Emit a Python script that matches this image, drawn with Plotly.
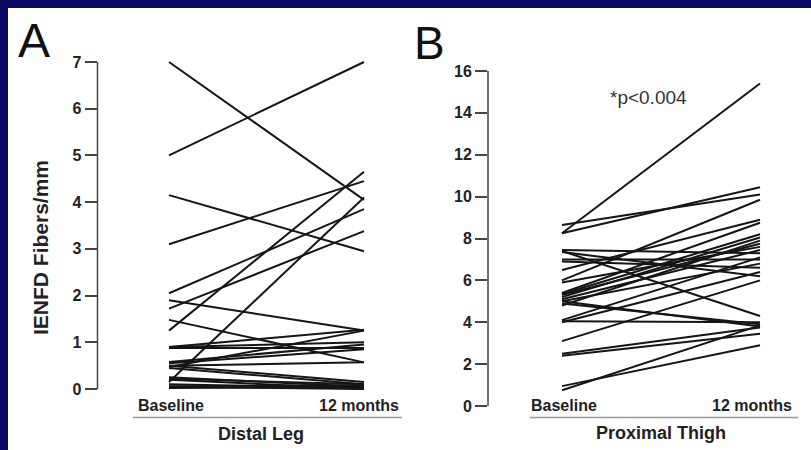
import plotly.graph_objects as go

W, H = 811, 450

# ---------------- data ----------------
time_labels = ["Baseline", "12 months"]

# Panel A: Distal Leg (IENFD fibers/mm), one entry per subject
distal_baseline = [7.0, 5.0, 4.15, 3.1, 2.05, 1.9, 1.72, 1.48, 1.25, 0.9, 0.88, 0.9,
                   0.58, 0.55, 0.5, 0.47, 0.5, 0.45, 0.25, 0.2, 0.15, 0.1, 0.05, 0.02,
                   0.22, 0.06]
distal_12mo = [4.05, 7.0, 2.95, 4.45, 3.85, 1.25, 3.38, 0.57, 4.65, 1.27, 0.88, 1.0,
               0.95, 0.85, 0.57, 1.25, 0.15, 0.1, 0.05, 0.0, 4.1, 0.02, 0.0, 0.05,
               0.1, 0.08]

# Panel B: Proximal Thigh
thigh_baseline = [8.25, 8.25, 8.65, 7.45, 7.4, 7.35, 7.0, 6.9, 6.5, 6.0, 5.9, 5.4,
                  5.35, 5.3, 5.2, 5.1, 5.0, 5.0, 4.9, 4.8, 4.1, 4.05, 4.0, 3.1,
                  2.5, 2.4, 0.95, 0.75]
thigh_12mo = [15.4, 10.45, 10.1, 7.3, 4.3, 6.2, 7.0, 6.6, 8.9, 9.85, 7.6, 8.75,
              8.2, 7.75, 8.05, 7.45, 3.8, 6.8, 3.9, 7.9, 7.1, 4.0, 6.4, 6.0,
              3.75, 3.45, 2.9, 3.85]

distal_ticks = [0, 1, 2, 3, 4, 5, 6, 7]
thigh_ticks = [0, 2, 4, 6, 8, 10, 12, 14, 16]

# ---------------- helpers ----------------
def fx(px):
    return px / W

def fy(py):
    return 1 - py / H

def pairs(base, follow):
    xs, ys = [], []
    for b, f in zip(base, follow):
        xs += [0, 1, None]
        ys += [b, f, None]
    return xs, ys

FONT = "Liberation Sans, Arial, Helvetica, sans-serif"
LINE_COLOR = "#151515"
AXIS_COLOR = "#444444"
NAVY = "#0a0a64"

fig = go.Figure()

xa, ya = pairs(distal_baseline, distal_12mo)
fig.add_trace(go.Scatter(x=xa, y=ya, mode="lines", xaxis="x", yaxis="y",
                         line=dict(color=LINE_COLOR, width=2), hoverinfo="skip",
                         showlegend=False))
xb, yb = pairs(thigh_baseline, thigh_12mo)
fig.add_trace(go.Scatter(x=xb, y=yb, mode="lines", xaxis="x2", yaxis="y2",
                         line=dict(color=LINE_COLOR, width=2), hoverinfo="skip",
                         showlegend=False))

# geometry (pixels)
A_axis_x, A_base_x, A_end_x, A_right = 97.5, 169, 364, 402
A_top, A_bot = 62, 389
B_axis_x, B_base_x, B_end_x, B_right = 488, 562, 760, 798
B_top, B_bot = 71, 406
pad = 3

def xrange_for(axis_x, base_x, end_x, right):
    ppu = end_x - base_x
    r0 = -(base_x - axis_x) / ppu
    r1 = r0 + (right - axis_x) / ppu
    return [r0, r1]

A_ppu = (A_bot - A_top) / 7
B_ppu = (B_bot - B_top) / 16

tickfont = dict(family=FONT, size=16, color="#222222", weight="bold")

fig.update_layout(
    width=W, height=H,
    autosize=False,
    margin=dict(l=0, r=0, t=0, b=0, pad=0, autoexpand=False),
    paper_bgcolor=NAVY,
    plot_bgcolor="rgba(0,0,0,0)",
    xaxis=dict(domain=[fx(A_axis_x), fx(A_right)],
               range=xrange_for(A_axis_x, A_base_x, A_end_x, A_right),
               showgrid=False, zeroline=False, showline=False, automargin=False,
               showticklabels=False, ticks="", anchor="y"),
    yaxis=dict(domain=[fy(A_bot + pad), fy(A_top - pad)],
               range=[-pad / A_ppu, 7 + pad / A_ppu], automargin=False,
               tickvals=distal_ticks, ticks="outside", ticklen=12, tickwidth=1.5,
               tickcolor=AXIS_COLOR, tickfont=tickfont,
               showgrid=False, zeroline=False, showline=False, anchor="x"),
    xaxis2=dict(domain=[fx(B_axis_x), fx(B_right)],
                range=xrange_for(B_axis_x, B_base_x, B_end_x, B_right),
                showgrid=False, zeroline=False, showline=False, automargin=False,
                showticklabels=False, ticks="", anchor="y2"),
    yaxis2=dict(domain=[fy(B_bot + pad), fy(B_top - pad)],
                range=[-pad / B_ppu, 16 + pad / B_ppu], automargin=False,
                tickvals=thigh_ticks, ticks="outside", ticklen=12, tickwidth=1.5,
                tickcolor=AXIS_COLOR, tickfont=tickfont,
                showgrid=False, zeroline=False, showline=False, anchor="x2"),
)

shapes = [
    # white slide panel
    dict(type="rect", xref="paper", yref="paper", x0=fx(8), x1=1.02, y0=-0.02, y1=fy(8),
         fillcolor="white", line=dict(width=0), layer="below"),
    # y axis spines (from lowest to highest tick)
    dict(type="line", xref="x domain", yref="y", x0=0, x1=0, y0=0, y1=7,
         line=dict(color=AXIS_COLOR, width=1.5)),
    dict(type="line", xref="x2 domain", yref="y2", x0=0, x1=0, y0=0, y1=16,
         line=dict(color=AXIS_COLOR, width=1.5)),
    # separator lines under the time labels
    dict(type="line", xref="paper", yref="paper", x0=fx(133), x1=fx(402),
         y0=fy(417.5), y1=fy(417.5), line=dict(color="#999999", width=1.5)),
    dict(type="line", xref="paper", yref="paper", x0=fx(530), x1=fx(798),
         y0=fy(417.5), y1=fy(417.5), line=dict(color="#999999", width=1.5)),
]
fig.update_layout(shapes=shapes)

def note(text, x, y, font, xref="paper", xshift=0, angle=0):
    return dict(text=text, x=x, y=y, xref=xref, yref="paper", xshift=xshift,
                xanchor="center", yanchor="middle", textangle=angle,
                showarrow=False, font=font)

lab = dict(family=FONT, size=16, color="#222222", weight="bold")
big = dict(family=FONT, size=18, color="#222222", weight="bold")
ann = [
    note(time_labels[0], 0, fy(405), lab, xref="x", xshift=2),
    note(time_labels[1], 1, fy(405), lab, xref="x", xshift=-5),
    note(time_labels[0], 0, fy(405), lab, xref="x2", xshift=2),
    note(time_labels[1], 1, fy(405), lab, xref="x2", xshift=-8),
    note("Distal Leg", fx(261), fy(434), big),
    note("Proximal Thigh", fx(661), fy(433), big),
    note("IENFD Fibers/mm", fx(40), fy(248),
         dict(family=FONT, size=21, color="#222222", weight="bold"), angle=-90),
    note("A", fx(34), fy(40), dict(family=FONT, size=48, color="#111111")),
    note("B", fx(429), fy(43), dict(family=FONT, size=46, color="#111111")),
    note("*p<0.004", fx(648), fy(98), dict(family=FONT, size=19, color="#333333")),
]
fig.update_layout(annotations=ann)

fig.write_html(
    "out.html",
    config={"displayModeBar": False, "responsive": False},
    post_script=("document.body.style.margin='0';"
                 "document.body.style.padding='0';"
                 "document.body.style.background='white';"),
)
